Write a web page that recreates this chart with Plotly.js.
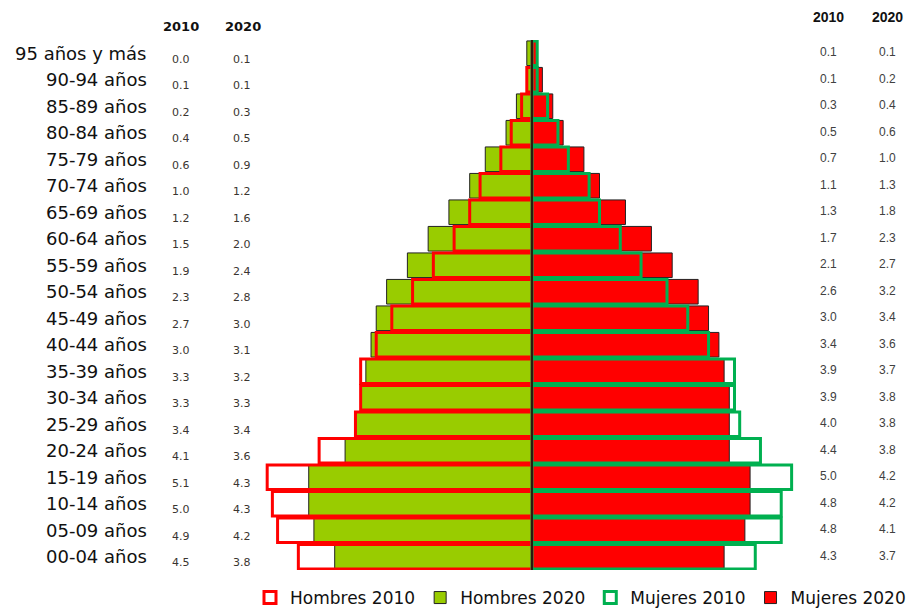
<!DOCTYPE html>
<html>
<head>
<meta charset="utf-8">
<script src="https://cdn.plot.ly/plotly-3.0.1.min.js"></script>
<style>body{margin:0;background:#fff}#chart{width:908px;height:608px}</style>
</head>
<body>
<div id="chart"></div>
<script>
// Categories, top to bottom as in the picture
const grupos = ["95 años y más","90-94 años","85-89 años","80-84 años","75-79 años","70-74 años","65-69 años","60-64 años","55-59 años","50-54 años","45-49 años","40-44 años","35-39 años","30-34 años","25-29 años","20-24 años","15-19 años","10-14 años","05-09 años","00-04 años"];
const hombres2010 = [0.0,0.1,0.2,0.4,0.6,1.0,1.2,1.5,1.9,2.3,2.7,3.0,3.3,3.3,3.4,4.1,5.1,5.0,4.9,4.5];
const hombres2020 = [0.1,0.1,0.3,0.5,0.9,1.2,1.6,2.0,2.4,2.8,3.0,3.1,3.2,3.3,3.4,3.6,4.3,4.3,4.2,3.8];
const mujeres2010 = [0.1,0.1,0.3,0.5,0.7,1.1,1.3,1.7,2.1,2.6,3.0,3.4,3.9,3.9,4.0,4.4,5.0,4.8,4.8,4.3];
const mujeres2020 = [0.1,0.2,0.4,0.6,1.0,1.3,1.8,2.3,2.7,3.2,3.4,3.6,3.7,3.8,3.8,3.8,4.2,4.2,4.1,3.7];
const anios = ["2010","2020"];

const neg = a => a.map(v => -v);
const W = 0.93;

const traces = [
  {type:'bar', orientation:'h', name:'Hombres 2020', y:grupos, x:neg(hombres2020), width:W,
   marker:{color:'#99CC00', line:{color:'#222', width:1}}, legendrank:2, hoverinfo:'skip'},
  {type:'bar', orientation:'h', name:'Mujeres 2020', y:grupos, x:mujeres2020, width:W,
   marker:{color:'#FF0000', line:{color:'#222', width:1}}, legendrank:4, hoverinfo:'skip'},
  {type:'bar', orientation:'h', name:'Hombres 2010', y:grupos, x:neg(hombres2010), width:W,
   marker:{color:'rgba(0,0,0,0)', line:{color:'#FF0000', width:3}}, legendrank:1, hoverinfo:'skip'},
  {type:'bar', orientation:'h', name:'Mujeres 2010', y:grupos, x:mujeres2010, width:W,
   marker:{color:'rgba(0,0,0,0)', line:{color:'#00B050', width:3}}, legendrank:3, hoverinfo:'skip'}
];

const L = 262, R = 802, T = 40, B = 570;
const px = p => (p - L) / (R - L);
const py = p => (B - p) / (B - T);

const ann = [];
grupos.forEach((g, i) => {
  ann.push({xref:'paper', yref:'y', x:px(149), y:g, xanchor:'right', yanchor:'middle', showarrow:false,
    text:g, font:{family:'DejaVu Sans, Verdana, sans-serif', size:18, color:'#111'}});
  ann.push({xref:'paper', yref:'y', x:px(181), y:g, yshift:-6, xanchor:'center', yanchor:'middle', showarrow:false,
    text:hombres2010[i].toFixed(1), font:{family:'DejaVu Sans, Verdana, sans-serif', size:11, color:'#3a3530'}});
  ann.push({xref:'paper', yref:'y', x:px(242), y:g, yshift:-6, xanchor:'center', yanchor:'middle', showarrow:false,
    text:hombres2020[i].toFixed(1), font:{family:'DejaVu Sans, Verdana, sans-serif', size:11, color:'#3a3530'}});
  ann.push({xref:'paper', yref:'y', x:px(828), y:g, yshift:1, xanchor:'center', yanchor:'middle', showarrow:false,
    text:mujeres2010[i].toFixed(1), font:{family:'Liberation Sans, Arial, sans-serif', size:12, color:'#404040'}});
  ann.push({xref:'paper', yref:'y', x:px(887), y:g, yshift:1, xanchor:'center', yanchor:'middle', showarrow:false,
    text:mujeres2020[i].toFixed(1), font:{family:'Liberation Sans, Arial, sans-serif', size:12, color:'#404040'}});
});
ann.push({xref:'paper', yref:'paper', x:px(181), y:py(26), xanchor:'center', yanchor:'middle', showarrow:false,
  text:'<b>'+anios[0]+'</b>', font:{family:'DejaVu Sans, Verdana, sans-serif', size:13, color:'#111'}});
ann.push({xref:'paper', yref:'paper', x:px(243), y:py(26), xanchor:'center', yanchor:'middle', showarrow:false,
  text:'<b>'+anios[1]+'</b>', font:{family:'DejaVu Sans, Verdana, sans-serif', size:13, color:'#111'}});
ann.push({xref:'paper', yref:'paper', x:px(828), y:py(17), xanchor:'center', yanchor:'middle', showarrow:false,
  text:'<b>'+anios[0]+'</b>', font:{family:'Liberation Sans, Arial, sans-serif', size:14, color:'#111'}});
ann.push({xref:'paper', yref:'paper', x:px(887), y:py(17), xanchor:'center', yanchor:'middle', showarrow:false,
  text:'<b>'+anios[1]+'</b>', font:{family:'Liberation Sans, Arial, sans-serif', size:14, color:'#111'}});

const layout = {
  width:908, height:608,
  margin:{l:L, r:908-R, t:T, b:608-B, pad:0, autoexpand:false},
  paper_bgcolor:'#fff', plot_bgcolor:'#fff',
  barmode:'overlay',
  xaxis:{range:[-5.2,5.2], showgrid:false, showticklabels:false, ticks:'', showline:false,
         zeroline:false, fixedrange:true},
  yaxis:{type:'category', categoryorder:'array', categoryarray:grupos.slice().reverse(),
         range:[-0.5, grupos.length-0.5], showgrid:false, showticklabels:false, ticks:'', showline:false, zeroline:false},
  shapes:[{type:'line', xref:'x', yref:'paper', x0:0, x1:0, y0:0, y1:1, layer:'above',
           line:{color:'#2a1a10', width:2}}],
  showlegend:true,
  legend:{orientation:'h', x:px(250), xanchor:'left', y:py(598), yanchor:'middle',
          font:{family:'DejaVu Sans, Verdana, sans-serif', size:17, color:'#111'},
          itemwidth:30, tracegroupgap:0, bgcolor:'rgba(0,0,0,0)'},
  annotations:ann
};

Plotly.newPlot('chart', traces, layout, {displayModeBar:false, staticPlot:true});
</script>
</body>
</html>
